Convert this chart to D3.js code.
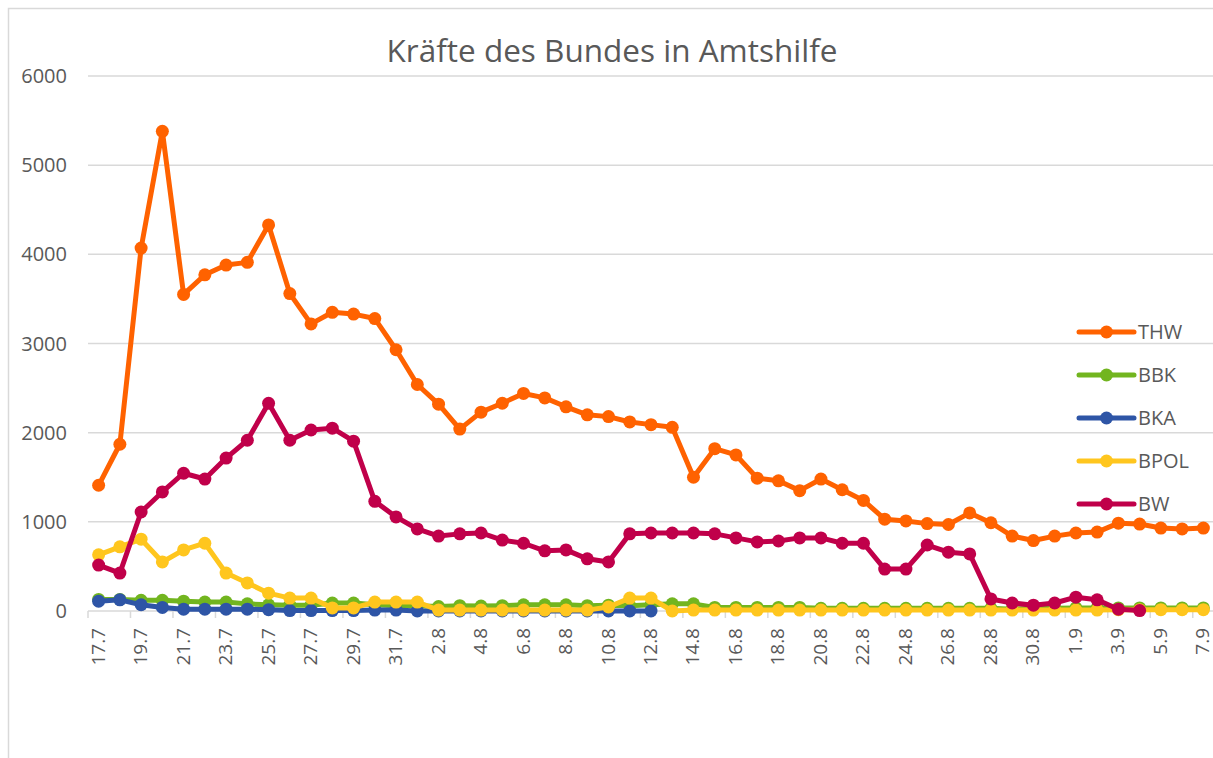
<!DOCTYPE html>
<html>
<head>
  <meta charset="UTF-8">
  <style>
    body { margin: 0; background: #fff; }
    svg text { font-family: "Open Sans", "Liberation Sans", sans-serif; fill: #595959; }
  </style>
</head>
<body>
<svg id="chart" width="1213" height="758"></svg>
<script src="https://d3js.org/d3.v7.min.js"></script>
<script>
// categories: daily dates 17.7 .. 7.9
const dates = ["17.7","18.7","19.7","20.7","21.7","22.7","23.7","24.7","25.7","26.7","27.7","28.7","29.7","30.7","31.7",
  "1.8","2.8","3.8","4.8","5.8","6.8","7.8","8.8","9.8","10.8","11.8","12.8","13.8","14.8","15.8","16.8","17.8","18.8",
  "19.8","20.8","21.8","22.8","23.8","24.8","25.8","26.8","27.8","28.8","29.8","30.8","31.8",
  "1.9","2.9","3.9","4.9","5.9","6.9","7.9"];

const thw = [1410,1870,4070,5380,3550,3770,3880,3910,4330,3560,3220,3350,3330,3280,2930,
  2540,2320,2040,2230,2330,2440,2390,2290,2200,2180,2120,2090,2060,1500,1820,1750,1490,1460,
  1350,1480,1360,1240,1030,1010,980,970,1100,990,840,790,840,
  875,885,985,975,930,920,930];

const bbk = [130,130,120,120,110,100,100,80,70,65,65,90,90,70,60,
  60,50,60,55,60,70,70,70,60,65,60,70,80,80,40,40,40,40,
  40,30,30,30,30,30,30,30,30,30,20,30,30,
  35,35,35,35,35,35,35];

const bka = [110,125,70,40,20,20,20,20,15,5,5,5,5,10,10,
  0,0,0,0,0,0,0,0,0,0,0,0,null,null,null,null,null,null,
  null,null,null,null,null,null,null,null,null,null,null,null,null,
  null,null,null,null,null,null,null];

const bpol = [630,720,805,550,685,760,425,315,200,145,145,35,35,100,100,
  100,10,10,10,10,10,10,10,10,45,145,145,0,10,10,10,10,10,
  10,10,10,10,10,10,10,10,10,10,10,10,10,
  10,10,15,15,15,15,15];

const bw = [515,425,1110,1335,1545,1480,1715,1915,2330,1915,2030,2050,1905,1230,1055,
  920,840,865,875,795,760,675,685,585,550,865,875,875,875,865,820,775,785,
  820,820,760,760,470,470,740,660,640,135,90,65,90,
  155,125,20,5,null,null,null];

const seriesNames = ["THW","BBK","BKA","BPOL","BW"];
const seriesColors = ["#ff6200","#72b51f","#2e55a6","#ffc61e","#c0004a"];
const seriesData = [thw, bbk, bka, bpol, bw];
const yTicks = [0,1000,2000,3000,4000,5000,6000];

const svg = d3.select("#chart");

// chart frame (runs off the right / bottom edge)
svg.append("rect")
  .attr("x", 8.5).attr("y", 8.5)
  .attr("width", 1300).attr("height", 900)
  .attr("fill", "none")
  .attr("stroke", "#d9d9d9")
  .attr("stroke-width", 1.5);

const plotLeft = 88, plotRight = 1214, plotTop = 76, plotBottom = 611;

const x = d3.scaleBand().domain(dates).range([plotLeft, plotRight]);
const y = d3.scaleLinear().domain([0, 6000]).range([plotBottom, plotTop]);
const cx = d => x(d) + x.bandwidth() / 2;

// gridlines
svg.append("g")
  .selectAll("line")
  .data(yTicks.filter(t => t > 0))
  .join("line")
  .attr("x1", plotLeft).attr("x2", 1213)
  .attr("y1", d => y(d)).attr("y2", d => y(d))
  .attr("stroke", "#d9d9d9")
  .attr("stroke-width", 1.5);

// y labels
svg.append("g")
  .selectAll("text")
  .data(yTicks)
  .join("text")
  .attr("x", 67)
  .attr("y", d => y(d) + 7)
  .attr("text-anchor", "end")
  .attr("font-size", 20)
  .text(d => d);

// x axis line + ticks between every second category
svg.append("line")
  .attr("x1", plotLeft).attr("x2", 1213)
  .attr("y1", plotBottom).attr("y2", plotBottom)
  .attr("stroke", "#d9d9d9").attr("stroke-width", 1.5);

svg.append("g")
  .selectAll("line")
  .data(dates.filter((d, i) => i % 2 === 0))
  .join("line")
  .attr("x1", d => x(d)).attr("x2", d => x(d))
  .attr("y1", plotBottom).attr("y2", plotBottom + 7)
  .attr("stroke", "#d9d9d9").attr("stroke-width", 1.5);

svg.append("g")
  .selectAll("text")
  .data(dates.filter((d, i) => i % 2 === 0))
  .join("text")
  .attr("transform", d => "translate(" + (cx(d) + 6) + "," + (plotBottom + 17) + ") rotate(-90)")
  .attr("text-anchor", "end")
  .attr("font-size", 19)
  .text(d => d);

// title
svg.append("text")
  .attr("x", 612).attr("y", 62)
  .attr("text-anchor", "middle")
  .attr("font-size", 31.5)
  .text("Kräfte des Bundes in Amtshilfe");

// series
const line = d3.line()
  .defined(d => d.v !== null)
  .x(d => cx(d.date))
  .y(d => y(d.v));

seriesData.forEach((vals, s) => {
  const pts = dates.map((date, i) => ({date: date, v: vals[i]}));
  const g = svg.append("g");
  g.append("path")
    .datum(pts)
    .attr("d", line)
    .attr("fill", "none")
    .attr("stroke", seriesColors[s])
    .attr("stroke-width", 5)
    .attr("stroke-linejoin", "round");
  g.selectAll("circle")
    .data(pts.filter(d => d.v !== null))
    .join("circle")
    .attr("cx", d => cx(d.date))
    .attr("cy", d => y(d.v))
    .attr("r", 6.5)
    .attr("fill", seriesColors[s]);
});

// legend
const legend = svg.append("g")
  .selectAll("g")
  .data(seriesNames)
  .join("g")
  .attr("transform", (d, i) => "translate(1079," + (332 + i * 43) + ")");

legend.append("line")
  .attr("x1", 0).attr("x2", 55)
  .attr("stroke", (d, i) => seriesColors[i])
  .attr("stroke-width", 5)
  .attr("stroke-linecap", "round");
legend.append("circle")
  .attr("cx", 27.5).attr("r", 6.5)
  .attr("fill", (d, i) => seriesColors[i]);
legend.append("text")
  .attr("x", 59).attr("y", 7)
  .attr("font-size", 20)
  .text(d => d);
</script>
</body>
</html>
